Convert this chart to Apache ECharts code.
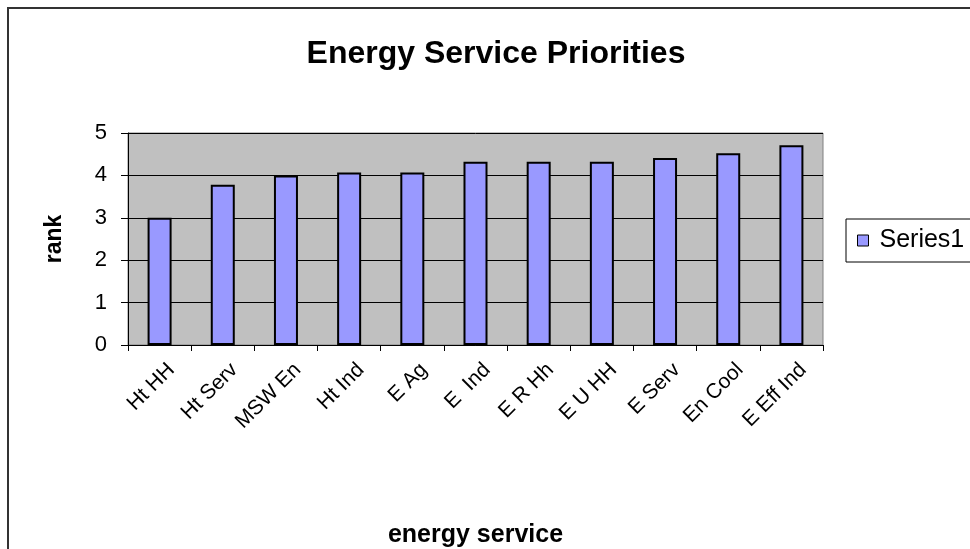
<!DOCTYPE html>
<html>
<head>
<meta charset="utf-8">
<script src="https://cdn.jsdelivr.net/npm/echarts@6/dist/echarts.min.js"></script>
<style>
  html, body { margin: 0; padding: 0; background: #ffffff; }
  #chart { width: 970px; height: 549px; }
</style>
</head>
<body>
<div id="chart"></div>
<script>
// Energy service categories and their average priority rank
const categories = ['Ht HH', 'Ht Serv', 'MSW En', 'Ht Ind', 'E Ag', 'E  Ind', 'E R Hh', 'E U HH', 'E Serv', 'En Cool', 'E Eff Ind'];
const rankValues = [3.0, 3.78, 4.0, 4.07, 4.07, 4.32, 4.32, 4.32, 4.41, 4.52, 4.71];
const yTicks = [0, 1, 2, 3, 4, 5];
const seriesName = 'Series1';

const FONT = '"Liberation Sans", Arial, sans-serif';
const chart = echarts.init(document.getElementById('chart'), null, { renderer: 'canvas' });

chart.setOption({
  animation: false,
  backgroundColor: '#ffffff',
  title: {
    text: 'Energy Service Priorities',
    left: 491,
    top: 33,
    textAlign: 'center',
    textStyle: { fontFamily: FONT, fontSize: 32, fontWeight: 'bold', color: '#000' }
  },
  legend: {
    data: [seriesName],
    left: 846,
    top: 219,
    orient: 'vertical',
    padding: [9, 30, 9, 11],
    backgroundColor: '#ffffff',
    borderColor: '#000000',
    borderWidth: 1,
    itemWidth: 11,
    itemHeight: 11,
    itemGap: 0,
    icon: 'rect',
    itemStyle: { borderColor: '#000', borderWidth: 1 },
    textStyle: { fontFamily: FONT, fontSize: 25, color: '#000', padding: [0, 0, 0, 6] }
  },
  grid: {
    left: 128,
    right: 147,
    top: 133,
    bottom: 200,
    show: true,
    backgroundColor: '#c0c0c0',
    borderColor: '#808080',
    borderWidth: 1
  },
  xAxis: {
    type: 'category',
    data: categories,
    name: 'energy service',
    nameLocation: 'middle',
    nameGap: 178,
    nameTextStyle: { fontFamily: FONT, fontSize: 25, fontWeight: 'bold', color: '#000' },
    axisLine: { lineStyle: { color: '#000', width: 1 } },
    axisTick: { show: true, length: 6, lineStyle: { color: '#000' } },
    axisLabel: {
      rotate: 45,
      interval: 0,
      margin: 10,
      verticalAlign: 'top',
      padding: [6, 0, 0, 0],
      fontFamily: FONT,
      fontSize: 21,
      color: '#000'
    }
  },
  yAxis: {
    type: 'value',
    min: yTicks[0],
    max: yTicks[yTicks.length - 1],
    interval: 1,
    name: 'rank',
    nameLocation: 'middle',
    nameGap: 62,
    nameRotate: 90,
    nameTextStyle: { fontFamily: FONT, fontSize: 23, fontWeight: 'bold', color: '#000' },
    axisLine: { show: true, lineStyle: { color: '#000', width: 1 } },
    axisTick: { show: true, length: 7, lineStyle: { color: '#000' } },
    axisLabel: { margin: 21, fontFamily: FONT, fontSize: 22, color: '#000' },
    splitLine: { show: true, lineStyle: { color: '#000', width: 1 } }
  },
  series: [{
    name: seriesName,
    type: 'bar',
    data: rankValues,
    barWidth: '38%',
    itemStyle: { color: '#9999ff', borderColor: '#000', borderWidth: 2 }
  }],
  graphic: [{
    type: 'rect',
    shape: { x: 8, y: 8, width: 1000, height: 600 },
    style: { fill: null, stroke: '#333', lineWidth: 2 },
    silent: true,
    z: 100
  }]
});
</script>
</body>
</html>
